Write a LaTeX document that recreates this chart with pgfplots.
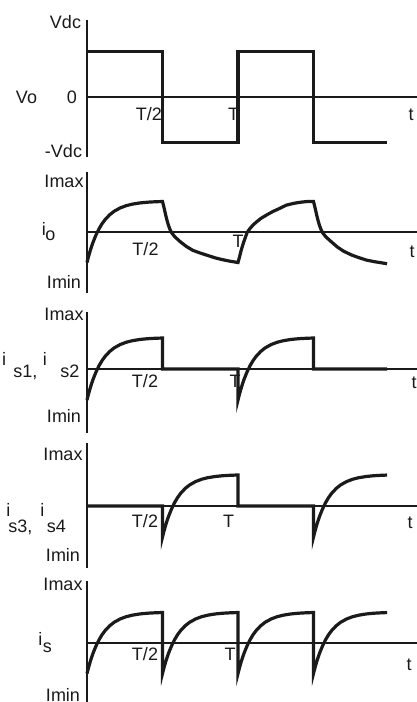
\documentclass[border=0pt]{standalone}
\usepackage{pgfplots}
\pgfplotsset{compat=1.18}
\usepackage{fontspec}
\setmainfont{Liberation Sans}

\definecolor{ink}{HTML}{1A1A1A}

% common look of the five stacked waveform panels
\pgfplotsset{
  wave/.style={
    axis lines=middle,
    axis line style={line width=0.9pt,-,draw=ink},
    xtick=\empty, ytick=\empty,
    scale only axis, width=165pt,
    xmin=0, xmax=2.1854,
    enlargelimits=false, clip=false,
    anchor=south west,
  },
  trace/.style={line width=1.6pt, draw=ink, line join=miter, no marks},
}

\begin{document}
\begin{tikzpicture}[x=0.5pt,y=-0.5pt,
  lab/.style={font=\fontsize{9}{10.5}\selectfont, text=ink, inner sep=0pt},
  every node/.style={lab}]
\useasboundingbox (0,0) rectangle (417,702);
\clip (0,0) rectangle (417,702);

\coordinate (P1) at (87,157);
\coordinate (P2) at (87,293);
\coordinate (P3) at (87,433);
\coordinate (P4) at (87,568);
\coordinate (P5) at (87,705);

% ---- output voltage v_o
\begin{axis}[wave, at={(P1)}, height=68.5pt, ymin=-1.319, ymax=1.692]
\addplot[trace] coordinates {(0,1) (0.5,1) (0.5,-1) (1,-1) (1,1) (1.5,1) (1.5,-1) (1.987,-1)};
\end{axis}

% ---- load current i_o
\begin{axis}[wave, at={(P2)}, height=60.5pt, ymin=-2.0, ymax=1.967]
\addplot[trace] coordinates {
 (0,-1) (0.01,-0.808) (0.02,-0.635) (0.03,-0.478) (0.04,-0.336) (0.06,-0.092)
 (0.08,0.109) (0.10,0.273) (0.12,0.407) (0.15,0.564) (0.18,0.681) (0.22,0.790)
 (0.26,0.864) (0.30,0.913) (0.35,0.953) (0.40,0.977) (0.45,0.991) (0.50,1.000)
 (0.51,0.80) (0.52,0.58) (0.53,0.38) (0.54,0.21) (0.55,0.08) (0.56,-0.02)
 (0.58,-0.15) (0.62,-0.33) (0.66,-0.48) (0.70,-0.60) (0.75,-0.69) (0.80,-0.77)
 (0.85,-0.85) (0.90,-0.91) (0.95,-0.96) (1.00,-1.00)
 (1.01,-0.82) (1.02,-0.62) (1.03,-0.45) (1.04,-0.30) (1.06,-0.02) (1.08,0.12)
 (1.10,0.23) (1.12,0.32) (1.15,0.44) (1.19,0.56) (1.23,0.67) (1.27,0.76)
 (1.32,0.88) (1.37,0.94) (1.42,0.98) (1.46,1.0) (1.50,1.0)
 (1.51,0.80) (1.52,0.58) (1.53,0.38) (1.54,0.21) (1.55,0.08) (1.56,-0.02)
 (1.58,-0.15) (1.62,-0.33) (1.66,-0.50) (1.70,-0.63) (1.75,-0.75) (1.80,-0.84)
 (1.85,-0.92) (1.90,-0.97) (1.95,-1.01) (1.987,-1.04)};
\end{axis}

% ---- switch currents i_s1, i_s2
\begin{axis}[wave, at={(P3)}, height=60.5pt, ymin=-2.065, ymax=1.839]
\addplot[trace] coordinates {
 (0,-1) (0.01,-0.808) (0.02,-0.635) (0.03,-0.478) (0.04,-0.336) (0.06,-0.092)
 (0.08,0.109) (0.10,0.273) (0.12,0.407) (0.15,0.564) (0.18,0.681) (0.22,0.790)
 (0.26,0.864) (0.30,0.913) (0.35,0.953) (0.40,0.977) (0.45,0.991) (0.50,1.000)
 (0.50,0) (1.00,0) (1.00,-1)
 (1.01,-0.808) (1.02,-0.635) (1.03,-0.478) (1.04,-0.336) (1.06,-0.092)
 (1.08,0.109) (1.10,0.273) (1.12,0.407) (1.15,0.564) (1.18,0.681) (1.22,0.790)
 (1.26,0.864) (1.30,0.913) (1.35,0.953) (1.40,0.977) (1.45,0.991) (1.50,1.000)
 (1.50,0) (1.987,0)};
\end{axis}

% ---- switch currents i_s3, i_s4
\begin{axis}[wave, at={(P4)}, height=62.5pt, ymin=-2.0, ymax=2.032]
\addplot[trace] coordinates {
 (0,0) (0.50,0) (0.50,-1)
 (0.51,-0.808) (0.52,-0.635) (0.53,-0.478) (0.54,-0.336) (0.56,-0.092)
 (0.58,0.109) (0.60,0.273) (0.62,0.407) (0.65,0.564) (0.68,0.681) (0.72,0.790)
 (0.76,0.864) (0.80,0.913) (0.85,0.953) (0.90,0.977) (0.95,0.991) (1.00,1.000)
 (1.00,0) (1.50,0) (1.50,-1)
 (1.51,-0.808) (1.52,-0.635) (1.53,-0.478) (1.54,-0.336) (1.56,-0.092)
 (1.58,0.109) (1.60,0.273) (1.62,0.407) (1.65,0.564) (1.68,0.681) (1.72,0.790)
 (1.76,0.864) (1.80,0.913) (1.85,0.953) (1.90,0.977) (1.95,0.991) (1.987,0.998)};
\end{axis}

% ---- supply current i_s
\begin{axis}[wave, at={(P5)}, height=62pt, ymin=-2.033, ymax=2.033]
\addplot[trace] coordinates {
 (0,-1) (0.01,-0.808) (0.02,-0.635) (0.03,-0.478) (0.04,-0.336) (0.06,-0.092)
 (0.08,0.109) (0.10,0.273) (0.12,0.407) (0.15,0.564) (0.18,0.681) (0.22,0.790)
 (0.26,0.864) (0.30,0.913) (0.35,0.953) (0.40,0.977) (0.45,0.991) (0.50,1.000)
 (0.50,-1)
 (0.51,-0.808) (0.52,-0.635) (0.53,-0.478) (0.54,-0.336) (0.56,-0.092)
 (0.58,0.109) (0.60,0.273) (0.62,0.407) (0.65,0.564) (0.68,0.681) (0.72,0.790)
 (0.76,0.864) (0.80,0.913) (0.85,0.953) (0.90,0.977) (0.95,0.991) (1.00,1.000)
 (1.00,-1)
 (1.01,-0.808) (1.02,-0.635) (1.03,-0.478) (1.04,-0.336) (1.06,-0.092)
 (1.08,0.109) (1.10,0.273) (1.12,0.407) (1.15,0.564) (1.18,0.681) (1.22,0.790)
 (1.26,0.864) (1.30,0.913) (1.35,0.953) (1.40,0.977) (1.45,0.991) (1.50,1.000)
 (1.50,-1)
 (1.51,-0.808) (1.52,-0.635) (1.53,-0.478) (1.54,-0.336) (1.56,-0.092)
 (1.58,0.109) (1.60,0.273) (1.62,0.407) (1.65,0.564) (1.68,0.681) (1.72,0.790)
 (1.76,0.864) (1.80,0.913) (1.85,0.953) (1.90,0.977) (1.95,0.991) (1.987,0.998)};
\end{axis}

% ---- labels, panel 1
\node[anchor=base] at (65.5,28) {Vdc};
\node[anchor=base] at (72,103) {0};
\node[anchor=base] at (26.5,103) {Vo};
\node[anchor=base] at (63.5,157) {-Vdc};
\node[anchor=base] at (149,120) {T/2};
\node[anchor=base] at (233.5,120) {T};
\node[anchor=base] at (411,120) {t};

% ---- labels, panel 2
\node[anchor=base] at (64,187) {Imax};
\node[anchor=base] at (64,288) {Imin};
\node[anchor=base west] at (41.5,235) {i};
\node[anchor=base west] at (45,240) {o};
\node[anchor=base] at (145.5,255) {T/2};
\node[anchor=base] at (238,247) {T};
\node[anchor=base] at (412,257) {t};

% ---- labels, panel 3
\node[anchor=base] at (64,320) {Imax};
\node[anchor=base] at (64,422) {Imin};
\node[anchor=base west] at (1.7,365) {i};
\node[anchor=base west] at (13,377) {s1,};
\node[anchor=base west] at (42.5,365) {i};
\node[anchor=base west] at (60,377) {s2};
\node[anchor=base] at (145,387) {T/2};
\node[anchor=base] at (235,387) {T};
\node[anchor=base] at (414,388) {t};

% ---- labels, panel 4
\node[anchor=base] at (63,460) {Imax};
\node[anchor=base] at (63,561) {Imin};
\node[anchor=base west] at (6,516) {i};
\node[anchor=base west] at (8,532.5) {s3,};
\node[anchor=base west] at (40,516) {i};
\node[anchor=base west] at (46.5,532) {s4};
\node[anchor=base] at (145,527) {T/2};
\node[anchor=base] at (228.5,527) {T};
\node[anchor=base] at (410,528) {t};

% ---- labels, panel 5
\node[anchor=base] at (63,590) {Imax};
\node[anchor=base] at (63,701) {Imin};
\node[anchor=base west] at (38,645) {i};
\node[anchor=base west] at (42.5,652) {s};
\node[anchor=base] at (145,660) {T/2};
\node[anchor=base] at (230,660) {T};
\node[anchor=base] at (409,670) {t};
\end{tikzpicture}
\end{document}
